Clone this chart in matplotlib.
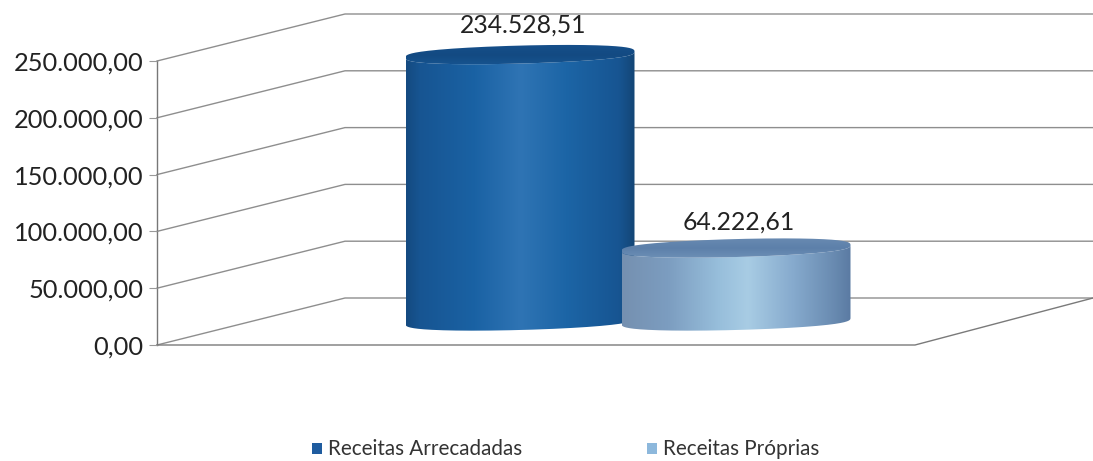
import numpy as np
import matplotlib
matplotlib.use("Agg")
import matplotlib.pyplot as plt
from matplotlib.colors import LinearSegmentedColormap
from matplotlib.path import Path
from matplotlib.patches import PathPatch, Rectangle

categories = ["Receitas Arrecadadas", "Receitas Próprias"]
values = [234528.51, 64222.61]
value_labels = ["234.528,51", "64.222,61"]
yticks = [0, 50000, 100000, 150000, 200000, 250000]
ytick_labels = ["0,00", "50.000,00", "100.000,00", "150.000,00", "200.000,00", "250.000,00"]

W, H = 1093, 461
PX_PER_VAL = 284 / 250000.0
PX_PER_CAT = 216.0
FONT = "Lato"

fig = plt.figure(figsize=(W / 100, H / 100), dpi=100, facecolor="white")
left, right, bottom_px, top_px = 157, 1093, 345, 0
ax = fig.add_axes([left / W, (H - bottom_px) / H, (right - left) / W, (bottom_px - top_px) / H])
ax.set_xlim((left - 520) / PX_PER_CAT, (right - 520) / PX_PER_CAT)
ax.set_ylim(0, (bottom_px - top_px) / PX_PER_VAL)
for s in ax.spines.values():
    s.set_visible(False)
ax.patch.set_alpha(0)
ax.set_xticks([])
ax.set_yticks(yticks)
ax.set_yticklabels(ytick_labels, fontsize=18.3, family=FONT, color="#222222")
ax.tick_params(axis="y", length=6, width=0.8, color="#999999", pad=3.5)

def dx(px):
    return px / PX_PER_CAT
def dy(px):
    return px / PX_PER_VAL

depth_x, depth_y = 188, 47
x0 = ax.get_xlim()[0]
x1 = ax.get_xlim()[1]
grid = "#8e8e8e"
lw = 1.0
for v in yticks:
    ax.plot([x0, x0 + dx(depth_x), x1], [v, v + dy(depth_y), v + dy(depth_y)],
            color=grid, lw=lw, clip_on=False, zorder=1)
ax.plot([x0, x0 + dx(758), x0 + dx(936)], [0, 0, dy(depth_y)], color="#7a7a7a", lw=lw, clip_on=False, zorder=1)
ax.plot([x0, x0], [yticks[0], yticks[-1]], color="#777777", lw=1.0, clip_on=False, zorder=1)

cmap1 = LinearSegmentedColormap.from_list("c1", [
    (0.0, "#144a80"), (0.06, "#175592"), (0.3, "#1a62a4"), (0.5, "#2f74b4"),
    (0.7, "#1c65a6"), (0.93, "#175592"), (1.0, "#134676")])
cmap2 = LinearSegmentedColormap.from_list("c2", [
    (0.0, "#7590b0"), (0.2, "#7c9dc0"), (0.42, "#97bedb"), (0.55, "#a8cce4"),
    (0.75, "#86aacd"), (0.92, "#6a8cb2"), (1.0, "#5b7ba3")])
cmaps = [cmap1, cmap2]
top_cmaps = [LinearSegmentedColormap.from_list("t1", ["#175592", "#134a82", "#16508c"]),
             LinearSegmentedColormap.from_list("t2", ["#6f92b8", "#5d80aa", "#6a8cb3"])]

base_offset = 24      # pixels of the cylinder centre above the front floor line
half_w = 114.5 / PX_PER_CAT
ry = dy(9.0)
tilt = dy(3.0)
SHAPE = 0.72          # squarer shoulders than a true ellipse
label_gaps = [9, 5]   # pixels between cap and value label

def rim(t):
    return np.sign(np.sin(t)) * np.abs(np.sin(t)) ** SHAPE

for i, (val, lab) in enumerate(zip(values, value_labels)):
    cy0 = dy(base_offset)
    cy1 = cy0 + val
    t = np.linspace(0, np.pi, 181)
    xt = i + half_w * np.cos(t)
    low = cy0 - ry * rim(t) + tilt * np.cos(t)
    up = cy1 - ry * rim(t) + tilt * np.cos(t)
    verts = np.concatenate([np.c_[xt, up], np.c_[xt[::-1], low[::-1]], [[xt[0], up[0]]]])
    clip = PathPatch(Path(verts), transform=ax.transData, fc="none", ec="none")
    ax.add_patch(clip)
    grad = np.linspace(0, 1, 256)[None, :]
    im = ax.imshow(grad, extent=[i - half_w, i + half_w, cy0 - ry - tilt, cy1 + ry], cmap=cmaps[i],
                   aspect="auto", zorder=3 + i)
    im.set_clip_path(clip)
    # top face
    ta = np.linspace(0, 2 * np.pi, 361)
    ex = i + half_w * np.cos(ta)
    ey = cy1 + ry * rim(ta) + tilt * np.cos(ta)
    cap = PathPatch(Path(np.c_[ex, ey]), transform=ax.transData, fc="none", ec="none")
    ax.add_patch(cap)
    vgrad = np.linspace(0, 1, 64)[:, None]
    im2 = ax.imshow(vgrad, extent=[i - half_w, i + half_w, cy1 - ry - tilt, cy1 + ry + tilt],
                    cmap=top_cmaps[i], aspect="auto", origin="lower", zorder=3.5 + i)
    im2.set_clip_path(cap)
    ax.text(i + dx(3), cy1 + ry + dy(label_gaps[i]), lab, ha="center", va="bottom", fontsize=17.8,
            family=FONT, color="#222222", zorder=6)
ax.set_xlim(x0, x1)
ax.set_ylim(0, (bottom_px - top_px) / PX_PER_VAL)

legend_colors = ["#1f5c9f", "#8db8dc"]
legend_x = [312, 647]
for cat, c, lx in zip(categories, legend_colors, legend_x):
    fig.patches.append(Rectangle((lx / W, (H - 454) / H), 10 / W, 11 / H, transform=fig.transFigure, fc=c, ec="none"))
    fig.text((lx + 16) / W, (H - 449) / H, cat, fontsize=14.9, family=FONT, color="#333333", va="center", ha="left")

fig.savefig("out.png", dpi=100, facecolor="white")
